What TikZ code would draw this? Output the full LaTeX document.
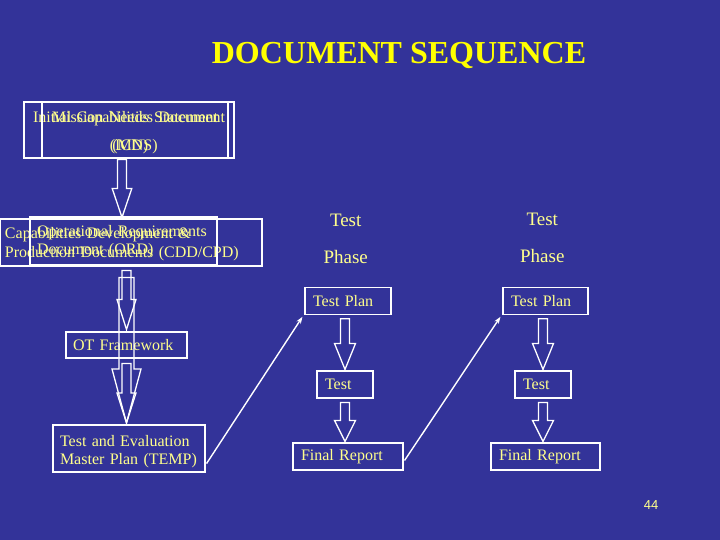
\documentclass[tikz,border=0pt]{standalone}
\usepackage{fontspec}
\setmainfont{Liberation Serif}
\newfontfamily\pgnumfont{Liberation Sans}
\usetikzlibrary{calc,arrows.meta}
\definecolor{bgblue}{RGB}{51,51,153}
\definecolor{titleyellow}{RGB}{255,255,0}
\definecolor{txtyellow}{RGB}{255,255,140}
\newcommand\fatarrow[5]{% start, tip, shaft half width, head half width, head length
  \draw[fatarr] let \p1=(#1), \p2=(#2) in
    (\x2-#3,\y1) -- (\x2+#3,\y1) -- (\x2+#3,\y2+#5) -- (\x2+#4,\y2+#5) --
    (\x2,\y2) -- (\x2-#4,\y2+#5) -- (\x2-#3,\y2+#5) -- cycle;}
\newcommand\topstrut[1]{\rule{0pt}{#1}}
\begin{document}
\begin{tikzpicture}[x=1pt,y=-1pt,
  docbox/.style={draw=white, line width=1.1pt, text=txtyellow, inner ysep=0pt, align=left},
  fatarr/.style={draw=white, line width=1.3pt, line join=miter},
  thinarr/.style={draw=white, line width=1.4pt, -{Stealth[length=7pt,width=5pt]}},
  plaintxt/.style={text=txtyellow, inner sep=0pt}]
\fill[bgblue] (0,0) rectangle (720,540);
\useasboundingbox (0,0) rectangle (720,540);

% title
\node[text=titleyellow, anchor=base, inner sep=0pt, font=\fontsize{32}{38}\selectfont\bfseries] (title) at (399,64) {DOCUMENT SEQUENCE};

% overlapping first boxes
\node[docbox, align=center, text width=194pt, inner xsep=8pt, minimum height=56pt, font=\fontsize{16}{28}\selectfont] (icd) at (129,130) {\topstrut{16pt}Initial Capabilities Document\\(ICD)};
\node[docbox, align=center, text width=174pt, inner xsep=6pt, minimum height=56pt, font=\fontsize{16}{28}\selectfont] (mns) at (135,130) {\topstrut{16pt}Mission Needs Statement\\(MNS)};

% overlapping second boxes
\node[docbox, text width=252pt, inner xsep=5pt, minimum height=47pt, font=\fontsize{16}{19}\selectfont] (cdd) at (131,242.5) {\topstrut{14pt}Capabilities Development \&\\Production Documents (CDD/CPD)};
\node[docbox, text width=173pt, inner xsep=7pt, minimum height=48pt, font=\fontsize{16}{18}\selectfont] (ord) at (123.5,241) {\topstrut{13pt}Operational Requirements\\Document (ORD)};

\node[docbox, text width=107pt, inner xsep=7pt, minimum height=26pt, font=\fontsize{16}{19}\selectfont] (ot) at (126.5,345) {OT Framework};
\node[docbox, text width=138pt, inner xsep=7pt, minimum height=47pt, font=\fontsize{16}{17.5}\selectfont] (temp) at (129,448.5) {\topstrut{17pt}Test and Evaluation\\Master Plan (TEMP)};

% test phase columns
\node[plaintxt, align=center, font=\fontsize{19}{36.7}\selectfont] (phase1) at (345.7,239) {Test\\Phase};
\node[plaintxt, align=center, font=\fontsize{19}{36.7}\selectfont] (phase2) at (542.3,238) {Test\\Phase};

\node[docbox, text width=70pt, inner xsep=8pt, minimum height=27pt, font=\fontsize{16}{19}\selectfont] (tp1) at (348,300.75) {Test Plan};
\node[docbox, text width=69pt, inner xsep=8pt, minimum height=27pt, font=\fontsize{16}{19}\selectfont] (tp2) at (545.5,300.75) {Test Plan};
\node[docbox, text width=40pt, inner xsep=8pt, minimum height=27pt, font=\fontsize{16}{19}\selectfont] (test1) at (345,384.5) {Test};
\node[docbox, text width=40pt, inner xsep=8pt, minimum height=27pt, font=\fontsize{16}{19}\selectfont] (test2) at (543,384.5) {Test};
\node[docbox, text width=94pt, inner xsep=8pt, minimum height=27pt, font=\fontsize{16}{19}\selectfont] (fr1) at (348,456.5) {Final Report};
\node[docbox, text width=93pt, inner xsep=8pt, minimum height=27pt, font=\fontsize{16}{19}\selectfont] (fr2) at (545.5,456.5) {Final Report};

% block arrow end points
\coordinate (a1s) at ($(icd.south)+(-7,1)$);
\coordinate (a1t) at ($(a1s |- ord.north)+(0,1)$);
\coordinate (a2s) at ($(ord.south)+(3,5)$);
\coordinate (a2t) at ($(a2s |- ot.north)+(0,-2)$);
\coordinate (a3s) at ($(ord.south)+(3,12)$);
\coordinate (a3t) at ($(a3s |- temp.north)+(0,-1.5)$);
\coordinate (a4s) at ($(ot.south)+(0,5)$);
\coordinate (a4t) at ($(a4s |- temp.north)+(0,-1.5)$);
\coordinate (b1s) at ($(tp1.south -| test1.center)+(0,4)$);
\coordinate (b1t) at ($(test1.north)+(0,-1)$);
\coordinate (b2s) at ($(test1.south)+(0,4)$);
\coordinate (b2t) at ($(b2s |- fr1.north)+(0,-1)$);
\coordinate (c1s) at ($(tp2.south -| test2.center)+(0,4)$);
\coordinate (c1t) at ($(test2.north)+(0,-1)$);
\coordinate (c2s) at ($(test2.south)+(0,4)$);
\coordinate (c2t) at ($(c2s |- fr2.north)+(0,-1)$);

\fatarrow{a1s}{a1t}{4.5pt}{9.8pt}{29pt}
\fatarrow{a2s}{a2t}{4.5pt}{9.5pt}{30pt}
\fatarrow{a3s}{a3t}{7.5pt}{14.5pt}{54pt}
\fatarrow{a4s}{a4t}{4.5pt}{9.5pt}{30pt}
\fatarrow{b1s}{b1t}{4.5pt}{10.5pt}{26pt}
\fatarrow{b2s}{b2t}{4.5pt}{10.5pt}{21pt}
\fatarrow{c1s}{c1t}{4.5pt}{10.5pt}{26pt}
\fatarrow{c2s}{c2t}{4.5pt}{10.5pt}{21pt}

% diagonal arrows
\coordinate (l1s) at ($(temp.south east)+(1,-9)$);
\coordinate (l2s) at ($(fr1.east)+(1,4)$);
\draw[thinarr] (l1s) -- ($(tp1.south west)+(-2,2)$);
\draw[thinarr] (l2s) -- ($(tp2.south west)+(-2,2)$);

% page number
\node[plaintxt, font=\pgnumfont\fontsize{13}{15}\selectfont] (pg) at (651,505) {44};
\end{tikzpicture}
\end{document}
